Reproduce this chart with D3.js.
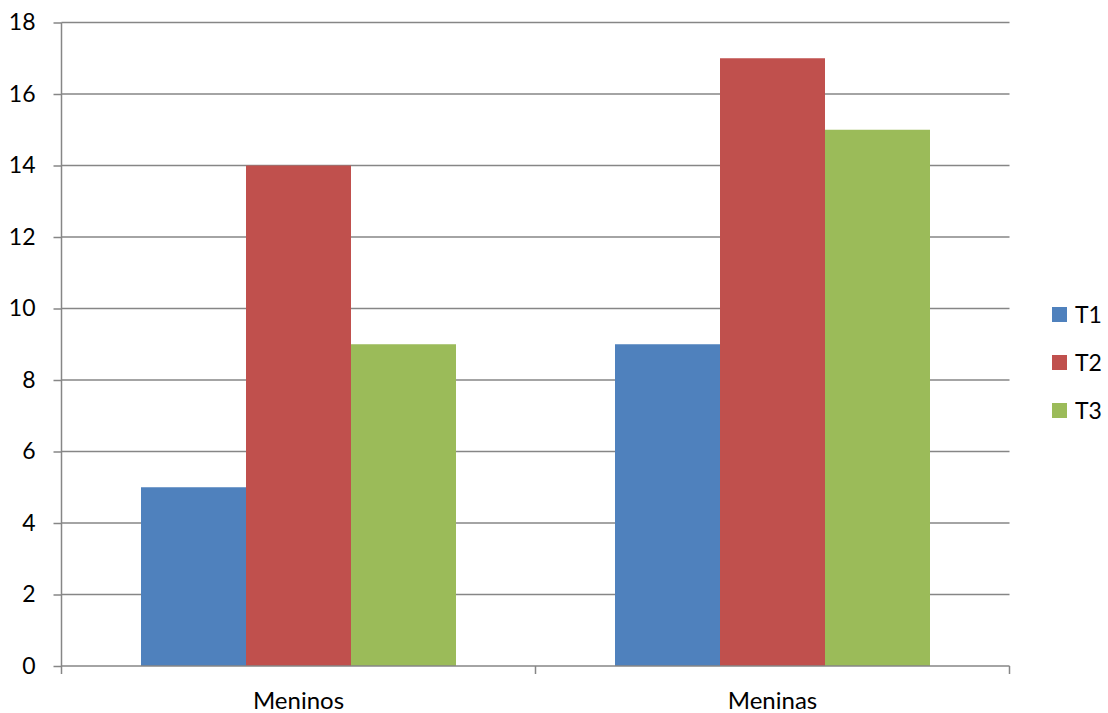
<!DOCTYPE html>
<html><head><meta charset="utf-8">
<script src="https://cdn.jsdelivr.net/npm/d3@7"></script>
<style>body{margin:0;background:#fff}svg{display:block;font-family:Lato,"Open Sans",sans-serif}</style>
</head><body>
<svg id="c" width="1108" height="713"></svg>
<script>
const categories = ["Meninos", "Meninas"];
const series = ["T1", "T2", "T3"];
const T1 = [5, 9];
const T2 = [14, 17];
const T3 = [9, 15];
const yTicks = [0, 2, 4, 6, 8, 10, 12, 14, 16, 18];
const colors = ["#4F81BD", "#C0504D", "#9BBB59"];
const values = [T1, T2, T3];

const svg = d3.select("#c");
const L = 61.5, R = 1009.5, T = 22.5, B = 666;
const FS = 23;
const y = d3.scaleLinear().domain([0, 18]).range([B, T]);
const x0 = d3.scaleBand().domain(categories).range([L, R]).padding(0);
const step = x0.bandwidth();
const x1 = d3.scaleBand().domain(series).range([step*79.5/474, step - step*79.5/474]).padding(0);

const grid = "#868686";
svg.append("g").selectAll("line").data(yTicks.filter(d=>d>0)).join("line")
  .attr("x1", L).attr("x2", R).attr("y1", d=>y(d)).attr("y2", d=>y(d))
  .attr("stroke", grid).attr("stroke-width", 1.5);

categories.forEach((c, ci) => {
  series.forEach((s, si) => {
    svg.append("rect")
      .attr("x", x0(c) + x1(s)).attr("width", x1.bandwidth())
      .attr("y", y(values[si][ci])).attr("height", B - y(values[si][ci]))
      .attr("fill", colors[si]);
  });
});

const yAxis = d3.axisLeft(y).tickValues(yTicks).tickSize(8).tickPadding(18).tickFormat(d3.format("d"));
const gy = svg.append("g").attr("transform", `translate(${L},0)`).call(yAxis);
gy.select(".domain").attr("stroke", grid).attr("stroke-width", 1.5).attr("d", `M0,${T}V${B}`);
gy.selectAll(".tick line").attr("stroke", grid).attr("stroke-width", 1.5);
gy.selectAll(".tick text").attr("font-size", FS).attr("fill", "#000").attr("font-family", "Lato,'Open Sans',sans-serif").attr("x", -26);

const xb = [L, ...categories.map(c => x0(c) + step)];
svg.append("line").attr("x1", L).attr("x2", R).attr("y1", B).attr("y2", B).attr("stroke", grid).attr("stroke-width", 1.5);
svg.append("g").selectAll("line").data(xb).join("line")
  .attr("x1", d=>d).attr("x2", d=>d).attr("y1", B).attr("y2", B+8)
  .attr("stroke", grid).attr("stroke-width", 1.5);
svg.append("g").selectAll("text").data(categories).join("text")
  .attr("x", d => x0(d) + step/2).attr("y", 709)
  .attr("text-anchor", "middle").attr("font-size", FS+1).attr("fill", "#000").text(d=>d);

const lg = svg.append("g");
series.forEach((s, i) => {
  const cy = 314.5 + i*48;
  lg.append("rect").attr("x", 1052).attr("y", cy-7.5).attr("width", 15).attr("height", 15).attr("fill", colors[i]);
  lg.append("text").attr("x", 1075).attr("y", cy+8).attr("font-size", FS).attr("fill", "#000").text(s);
});
</script>
</body></html>
